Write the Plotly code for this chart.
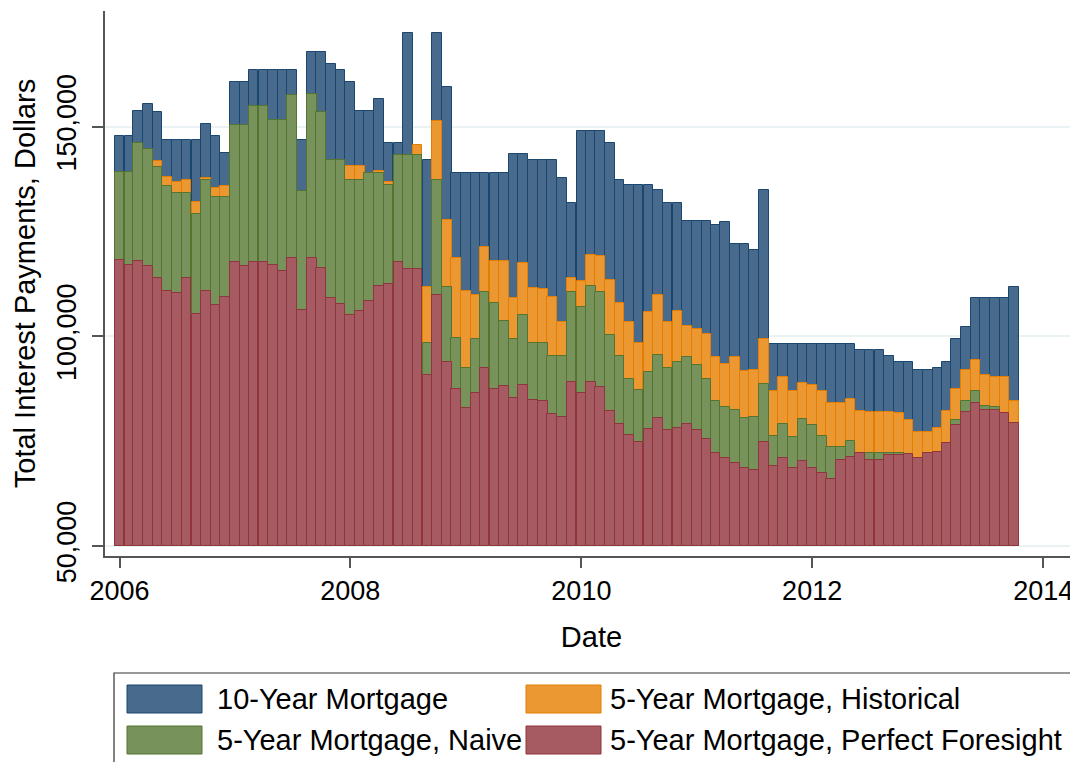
import plotly.graph_objects as go
import pandas as pd

# Monthly dates Jan 2006 .. Oct 2013
dates = pd.date_range("2006-01-01", "2013-10-01", freq="MS")

# Values in thousands of dollars
ten_year = [147.7, 147.7, 153.8, 155.3, 153.5, 146.9, 146.9, 146.9, 146.9, 150.7, 147.9, 143.8,
            160.7, 160.7, 163.5, 163.5, 163.5, 163.5, 163.5, 146.9, 167.8, 167.8, 164.9, 163.5,
            160.7, 153.8, 153.8, 156.6, 146.1, 146.1, 172.4, 144.0, 142.0, 172.4, 159.5, 139.0,
            139.0, 139.0, 139.0, 139.0, 139.0, 143.6, 143.6, 142.0, 142.0, 142.0, 137.8, 131.9,
            148.9, 148.9, 148.9, 146.1, 137.4, 136.0, 136.0, 136.0, 134.9, 131.9, 131.9, 127.4,
            127.4, 127.4, 126.6, 127.2, 122.0, 122.0, 120.6, 134.9, 98.2, 98.2, 98.2, 98.2,
            98.2, 98.2, 98.2, 98.2, 98.2, 96.8, 96.8, 96.8, 95.4, 93.9, 93.9, 92.0,
            92.0, 92.5, 93.9, 99.4, 102.3, 109.1, 109.1, 109.1, 109.1, 111.7]

historical = [137.0, 137.0, 143.0, 142.0, 141.8, 138.1, 136.9, 137.4, 132.1, 137.8, 135.5, 135.8,
              147.0, 147.0, 151.0, 151.0, 149.0, 149.0, 154.0, 132.0, 154.0, 150.0, 140.0, 140.0,
              140.7, 140.7, 138.0, 139.5, 136.7, 142.0, 142.0, 145.6, 111.8, 151.3, 127.7, 118.6,
              110.8, 109.9, 121.2, 118.0, 118.0, 109.2, 117.4, 111.5, 111.2, 109.4, 103.4, 113.8,
              113.2, 119.4, 119.1, 113.5, 108.0, 103.4, 98.5, 105.7, 109.9, 103.4, 106.0, 102.5,
              101.7, 100.6, 95.1, 93.3, 95.1, 91.7, 92.0, 99.4, 86.9, 90.2, 86.9, 88.8,
              88.3, 86.9, 84.0, 84.0, 85.1, 82.3, 81.9, 81.9, 81.9, 81.7, 80.0, 77.1,
              77.1, 78.2, 82.3, 87.4, 92.0, 94.3, 90.8, 90.2, 90.2, 84.6]

naive = [139.2, 139.2, 146.1, 144.6, 140.3, 135.8, 134.3, 134.3, 129.2, 137.4, 133.2, 133.2,
         150.4, 150.4, 154.9, 154.9, 151.7, 151.7, 157.6, 134.6, 157.8, 153.5, 142.0, 142.0,
         137.2, 137.4, 139.0, 139.0, 136.1, 143.2, 143.2, 143.2, 98.3, 137.4, 111.8, 99.7,
         92.5, 99.4, 110.5, 108.0, 103.7, 99.4, 105.1, 98.3, 98.3, 95.4, 95.4, 110.5,
         107.1, 112.0, 110.5, 100.2, 95.4, 89.9, 87.1, 91.4, 95.6, 92.5, 93.9, 95.1,
         93.1, 89.9, 84.6, 83.1, 82.5, 80.5, 80.8, 88.6, 76.2, 79.1, 75.9, 80.2,
         78.8, 76.2, 73.6, 73.6, 75.0, 71.5, 72.2, 72.2, 72.2, 72.2, 71.0, 70.5,
         71.5, 72.0, 74.0, 80.0, 84.6, 86.9, 83.4, 83.1, 81.0, 79.0]

perfect = [118.3, 116.9, 118.0, 116.7, 114.0, 110.8, 110.3, 113.8, 105.4, 110.8, 107.4, 109.4,
           117.7, 116.7, 117.7, 117.7, 116.9, 115.5, 118.6, 106.2, 118.6, 116.3, 109.1, 107.7,
           105.2, 106.0, 108.5, 112.0, 112.6, 117.7, 116.1, 116.1, 90.8, 109.8, 93.9, 87.4,
           82.8, 86.5, 92.5, 87.4, 88.2, 85.3, 88.5, 84.8, 84.6, 81.4, 80.8, 89.1,
           86.5, 89.1, 87.9, 82.2, 79.1, 76.5, 74.9, 77.8, 80.5, 77.7, 78.2, 79.1,
           77.7, 75.4, 72.2, 71.0, 69.9, 68.5, 68.1, 74.9, 69.0, 71.0, 68.5, 70.2,
           68.7, 67.3, 65.9, 70.4, 71.3, 72.2, 70.4, 70.4, 71.6, 71.6, 71.9, 71.0,
           72.2, 72.5, 74.5, 78.8, 81.9, 84.0, 82.5, 82.5, 81.7, 79.4]

series_names = ["10-Year Mortgage", "5-Year Mortgage, Historical",
                "5-Year Mortgage, Naive", "5-Year Mortgage, Perfect Foresight"]
series_values = [ten_year, historical, naive, perfect]
fills = ["#476a8d", "#eb9732", "#77925a", "#a65a61"]
lines = ["#1a476f", "#e37e00", "#55752f", "#90353b"]

y_ticks = [50000, 100000, 150000]
y_ticktext = ["50,000", "100,000", "150,000"]
x_ticks = ["2006-01-01", "2008-01-01", "2010-01-01", "2012-01-01", "2014-01-01"]
x_ticktext = ["2006", "2008", "2010", "2012", "2014"]

BASE = 50000
FONT = "Liberation Sans, Arial, sans-serif"
month_ms = 365.25 / 12 * 86400000

fig = go.Figure()
for name, vals, fc, lc in zip(series_names, series_values, fills, lines):
    fig.add_trace(go.Bar(
        x=dates, y=[v * 1000 - BASE for v in vals], base=BASE, name=name,
        width=month_ms, marker=dict(color=fc, line=dict(color=lc, width=1)),
        showlegend=False,
    ))

# The page body has an 8px margin, so the figure is drawn 8px right/down.
OFF = 8
W, H = 1078 - OFF, 762 - OFF
L, R, T, B = 105 - OFF, 0, 11 - OFF, 762 - 556
pw, ph = W - L - R, H - T - B


def px_x(px):
    return (px - OFF - L) / pw


def px_y(py):
    return (H - B - (py - OFF)) / ph


shapes = []
annotations = []
# legend box
shapes.append(dict(type="rect", xref="paper", yref="paper",
                   x0=px_x(114), x1=px_x(1073), y0=px_y(775), y1=px_y(673),
                   line=dict(color="#333333", width=1.2), fillcolor="white", layer="above"))
# row 1: 10-Year, Historical ; row 2: Naive, Perfect Foresight
legend_pos = [(127, 685, 215), (526, 685, 608), (127, 726, 215), (526, 726, 608)]
for (sx, sy, tx), idx in zip(legend_pos, [0, 1, 2, 3]):
    shapes.append(dict(type="rect", xref="paper", yref="paper",
                       x0=px_x(sx), x1=px_x(sx + 75), y0=px_y(sy + 28), y1=px_y(sy),
                       line=dict(color=lines[idx], width=1), fillcolor=fills[idx], layer="above"))
    annotations.append(dict(xref="paper", yref="paper", x=px_x(tx), y=px_y(sy + 14),
                            text=series_names[idx], showarrow=False, xanchor="left",
                            yanchor="middle", font=dict(family=FONT, size=29, color="black")))

fig.update_layout(
    width=W, height=H,
    margin=dict(l=L, r=R, t=T, b=B, pad=0, autoexpand=False),
    barmode="overlay", bargap=0,
    plot_bgcolor="white", paper_bgcolor="white",
    font=dict(family=FONT, size=27, color="black"),
    shapes=shapes, annotations=annotations,
    xaxis=dict(
        type="date", range=["2005-11-16", "2014-04-21"], automargin=False,
        tickvals=x_ticks, ticktext=x_ticktext,
        ticks="outside", ticklen=10, tickwidth=1.5, tickcolor="#555555",
        showline=True, linecolor="#555555", linewidth=1.5, showgrid=False, zeroline=False,
        tickfont=dict(size=27),
        title=dict(text="Date", font=dict(size=29), standoff=22),
    ),
    yaxis=dict(
        range=[47600, 177600], automargin=False,
        tickvals=y_ticks, ticktext=y_ticktext, tickangle=-90,
        ticks="outside", ticklen=11, tickwidth=1.5, tickcolor="#555555",
        showline=True, linecolor="#555555", linewidth=1.5,
        showgrid=True, gridcolor="#eaf2f3", gridwidth=2, zeroline=False,
        tickfont=dict(size=27), ticklabelstandoff=5,
        title=dict(text="Total Interest Payments, Dollars", font=dict(size=29), standoff=8),
    ),
)

fig.write_html("out.html")
